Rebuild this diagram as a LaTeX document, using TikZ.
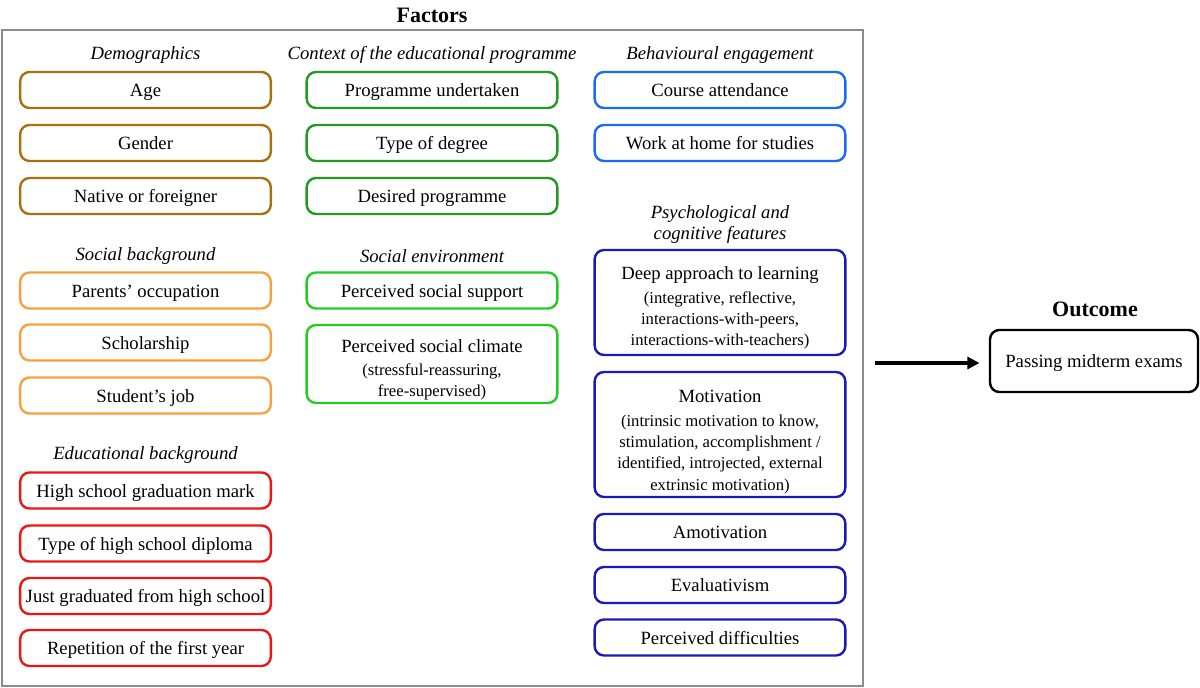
\documentclass[tikz,border=0pt]{standalone}
\usepackage{fontspec}
\setmainfont{Liberation Serif}
\usetikzlibrary{arrows.meta}
\definecolor{demobrown}{HTML}{A8700E}
\definecolor{socorange}{HTML}{F7A040}
\definecolor{edured}{HTML}{EE1515}
\definecolor{ctxgreen}{HTML}{229A22}
\definecolor{envgreen}{HTML}{22CC22}
\definecolor{behblue}{HTML}{1A6AF5}
\definecolor{psyblue}{HTML}{1A1AB8}
\definecolor{framegray}{HTML}{8C8C8C}
\newcommand{\detailfont}{\fontsize{12.5}{15}\selectfont}

\begin{document}
\begin{tikzpicture}[x=0.75pt,y=-0.75pt,
    factor/.style={draw=#1, text=black, rounded corners=7pt, line width=1.8pt,
        minimum width=188pt, minimum height=27pt, align=center, inner sep=2pt,
        text height=12.5pt, text depth=2.5pt, font=\fontsize{14}{16}\selectfont},
    multi/.style={text height={}, text depth={}},
    group/.style={align=center, font=\fontsize{14}{16}\selectfont\itshape},
    heading/.style={font=\fontsize{16.5}{19}\selectfont\bfseries}]
    \useasboundingbox (0,0) rectangle (1200,688);

    % frame of the factors
    \node[heading] (factors) at (432,15) {Factors};
    \draw[framegray, line width=1.1pt] (2,30) rectangle (863,686);

    % first column
    \node[group] (demo) at (145.5,55) {Demographics};
    \node[factor=demobrown] (age) at (145.5,90) {Age};
    \node[factor=demobrown] (gender) at (145.5,143) {Gender};
    \node[factor=demobrown] (native) at (145.5,196) {Native or foreigner};
    \node[group] (social) at (145.5,256) {Social background};
    \node[factor=socorange] (parents) at (145.5,290.5) {Parents’ occupation};
    \node[factor=socorange] (scholar) at (145.5,342.5) {Scholarship};
    \node[factor=socorange] (job) at (145.5,395.5) {Student’s job};
    \node[group] (edu) at (145.5,455) {Educational background};
    \node[factor=edured] (mark) at (145.5,490.5) {High school graduation mark};
    \node[factor=edured] (diploma) at (145.5,543.5) {Type of high school diploma};
    \node[factor=edured] (just) at (145.5,596) {Just graduated from high school};
    \node[factor=edured] (repeat) at (145.5,648) {Repetition of the first year};

    % second column
    \node[group] (context) at (432,55) {Context of the educational programme};
    \node[factor=ctxgreen] (undertaken) at (432,90) {Programme undertaken};
    \node[factor=ctxgreen] (degree) at (432,143) {Type of degree};
    \node[factor=ctxgreen] (desired) at (432,196) {Desired programme};
    \node[group] (env) at (432,256) {Social environment};
    \node[factor=envgreen] (support) at (432,290.5) {Perceived social support};
    \node[factor=envgreen, multi, minimum height=58.5pt] (climate) at (432,364)
        {\rule{0pt}{18.5pt}Perceived social climate\\[1pt]
        \detailfont(stressful-reassuring,\\\detailfont free-supervised)};

    % third column
    \node[group] (behav) at (720,55) {Behavioural engagement};
    \node[factor=behblue] (attend) at (720,90) {Course attendance};
    \node[factor=behblue] (home) at (720,143) {Work at home for studies};
    \node[group] (psy) at (720,224.5) {Psychological and\\cognitive features};
    \node[factor=psyblue, multi, minimum height=78.75pt] (deep) at (720,302.5)
        {\rule{0pt}{17.5pt}Deep approach to learning\\[2pt]
        \detailfont(integrative, reflective,\\\detailfont interactions-with-peers,\\
        \detailfont interactions-with-teachers)};
    \node[factor=psyblue, multi, minimum height=93.75pt] (motiv) at (720,434.5)
        {\rule{0pt}{20pt}Motivation\\[2pt]
        \detailfont(intrinsic motivation to know,\\\detailfont stimulation, accomplishment /\\
        \detailfont identified, introjected, external\\\detailfont extrinsic motivation)};
    \node[factor=psyblue] (amotiv) at (720,532) {Amotivation};
    \node[factor=psyblue] (evalu) at (720,585) {Evaluativism};
    \node[factor=psyblue] (diffic) at (720,637.5) {Perceived difficulties};

    % outcome
    \node[heading] (outcome) at (1095,309) {Outcome};
    \node[factor=black, minimum width=156pt, minimum height=46.5pt] (passing) at (1094,361)
        {Passing midterm exams};
    \coordinate (src) at (875,363);
    \draw[line width=2.4pt, -{Triangle[length=9pt,width=9pt]}, shorten >=7pt] (src) -- (passing.west |- src);
\end{tikzpicture}
\end{document}
